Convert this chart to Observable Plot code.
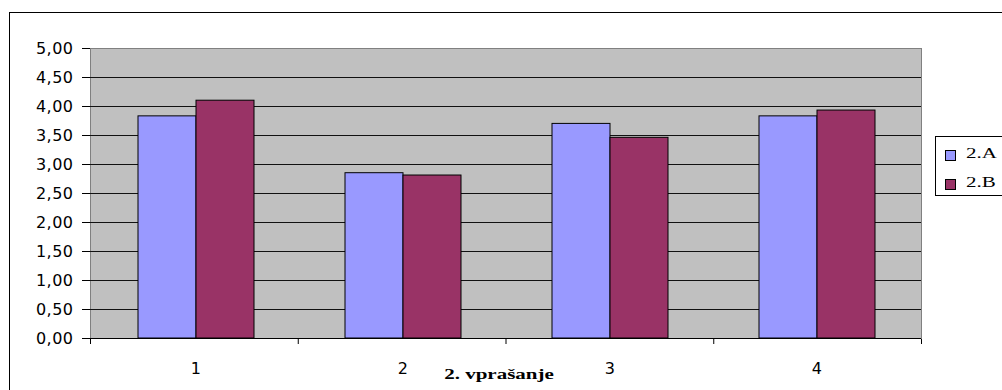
<!DOCTYPE html>
<html>
<head>
<meta charset="utf-8">
<script src="https://cdn.jsdelivr.net/npm/d3@7"></script>
<script src="https://cdn.jsdelivr.net/npm/@observablehq/plot@0.6"></script>
<style>
  html, body { margin: 0; padding: 0; background: #fff; }
  #chart { position: relative; width: 1002px; height: 390px; overflow: hidden; }
  #chart svg { position: absolute; left: 0; top: 0; }
  #chart svg text { letter-spacing: 0.5px; }
  .outer-frame { position: absolute; left: 9px; top: 12px; width: 1100px; height: 500px;
    border-left: 1px solid #000; border-top: 1px solid #000; box-sizing: border-box; }
  .axis-title { position: absolute; left: 499px; top: 366px; font: bold 15px "Liberation Serif", serif;
    white-space: nowrap; transform: translateX(-50%) scaleX(1.4); transform-origin: center; }
  .legend { position: absolute; left: 935px; top: 136px; width: 120px; height: 60px;
    border: 1px solid #000; box-sizing: border-box; background: #fff; }
  .legend-item { position: absolute; left: 9px; height: 16px; font: 15px "Liberation Serif", serif; }
  .legend-item .sw { position: absolute; left: 0; top: 3px; width: 9px; height: 9px; border: 1px solid #000; }
  .legend-item .lb { position: absolute; left: 21px; top: -2px; white-space: nowrap;
    transform: scaleX(1.4); transform-origin: left; }
</style>
</head>
<body>
<div id="chart"></div>
<script>
// Average score per question, two classes
const categories = ["1", "2", "3", "4"];
const seriesNames = ["2.A", "2.B"];
const valuesA = [3.83, 2.85, 3.70, 3.83];
const valuesB = [4.10, 2.81, 3.46, 3.93];
const seriesColors = ["#9999ff", "#993366"];
const yTicks = [0, 0.5, 1, 1.5, 2, 2.5, 3, 3.5, 4, 4.5, 5];
const axisTitle = "2. vprašanje";

const rows = [];
categories.forEach((q, i) => {
  rows.push({question: q, series: seriesNames[0], value: valuesA[i]});
  rows.push({question: q, series: seriesNames[1], value: valuesB[i]});
});

const W = 1002, H = 390;
const margins = {marginLeft: 90, marginRight: 81, marginTop: 48, marginBottom: 52};
const fmt = d => d.toFixed(2).replace(".", ",");
const sansStyle = {background: "transparent", fontFamily: "'DejaVu Sans', sans-serif", fontSize: "16px", color: "#000", overflow: "visible"};

// Plot area: grey background, grid lines, y axis and category boundary ticks
const base = Plot.plot({
  width: W, height: H, ...margins,
  style: sansStyle,
  x: {domain: [0, categories.length], ticks: d3.range(categories.length + 1), tickFormat: () => "", tickSize: 6, label: null},
  y: {domain: [0, 5], ticks: yTicks, tickFormat: fmt, tickSize: 8, tickPadding: 9, label: null, line: true},
  marks: [
    Plot.frame({fill: "#c0c0c0", stroke: "#808080"}),
    Plot.ruleY(yTicks.filter(t => t > 0 && t < 5), {stroke: "#111", strokeWidth: 1}),
    Plot.ruleY([0], {stroke: "#000"})
  ]
});

// Grouped bars, one facet per question
const bars = Plot.plot({
  width: W, height: H, ...margins,
  style: sansStyle,
  facet: {data: rows, x: "question"},
  fx: {domain: categories, padding: 0, axis: "bottom", tickSize: 0, tickPadding: 24, label: null},
  x: {domain: seriesNames, paddingInner: 0, paddingOuter: 0.76, align: 0.5, axis: null},
  y: {domain: [0, 5], axis: null},
  color: {domain: seriesNames, range: seriesColors},
  marks: [
    Plot.barY(rows, {x: "series", y: "value", fill: "series", stroke: "#000", strokeWidth: 1})
  ]
});

const chart = document.getElementById("chart");
chart.append(base, bars);

const title = document.createElement("div");
title.className = "axis-title";
title.textContent = axisTitle;
chart.append(title);

const legend = document.createElement("div");
legend.className = "legend";
seriesNames.forEach((name, i) => {
  const item = document.createElement("div");
  item.className = "legend-item";
  item.style.top = (10 + i * 29) + "px";
  item.innerHTML = `<span class="sw" style="background:${seriesColors[i]}"></span><span class="lb">${name}</span>`;
  legend.append(item);
});
chart.append(legend);

const frame = document.createElement("div");
frame.className = "outer-frame";
chart.append(frame);
</script>
</body>
</html>
